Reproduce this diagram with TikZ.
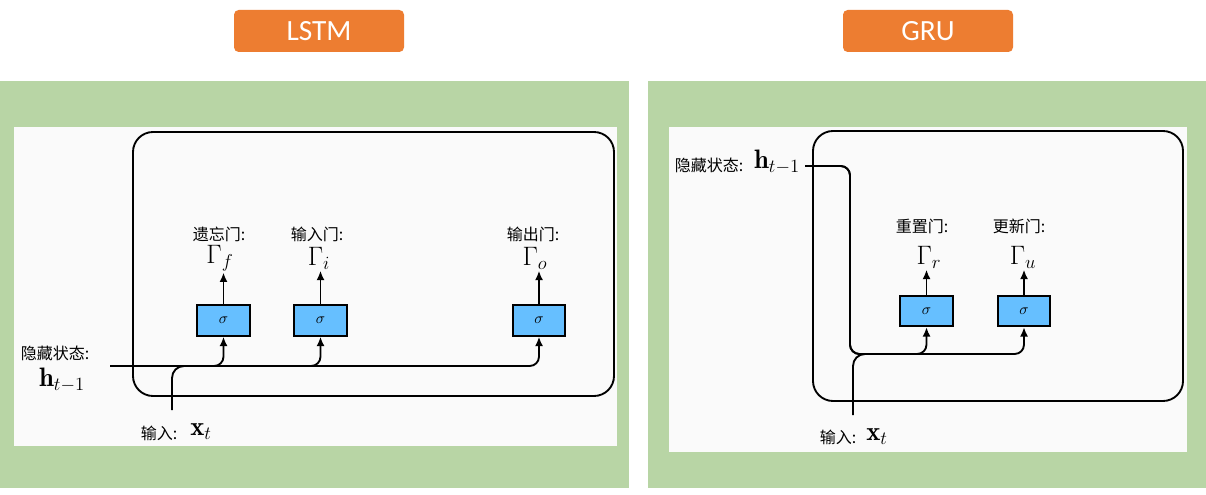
\RequirePackage{fix-cm}
\documentclass[tikz,border=0pt]{standalone}
\usepackage{fontspec}
\newfontfamily\cjk{Noto Sans CJK SC}
\newfontfamily\btnfont{Carlito}
\usetikzlibrary{arrows.meta}
\definecolor{panelgreen}{RGB}{184,213,165}
\definecolor{innerwhite}{RGB}{250,250,250}
\definecolor{gateblue}{RGB}{102,191,255}
\definecolor{orangec}{RGB}{237,125,49}
\tikzset{
  panel/.style={fill=panelgreen, draw=none},
  inner/.style={fill=innerwhite, draw=none},
  cell/.style={draw=black, line width=1.4pt, rounded corners=15pt},
  gatebox/.style={draw=black, fill=gateblue, line width=1.3pt, minimum width=39.5pt, minimum height=23pt, inner sep=0pt, font=\fontsize{11.5}{13}\selectfont},
  lbl/.style={font=\cjk\fontsize{12}{14}\selectfont, inner sep=1pt},
  mth/.style={font=\fontsize{20}{22}\selectfont, inner sep=1pt},
  conn/.style={line width=1.4pt, rounded corners=7pt},
  arr/.style={conn, -{Latex[length=7pt,width=6pt]}},
  titlebtn/.style={fill=orangec, rounded corners=3.5pt, text=white, font=\btnfont\fontsize{22}{24}\selectfont, minimum width=127.5pt, minimum height=31.5pt, inner sep=0pt}
}
\begin{document}
\begin{tikzpicture}[x=0.75pt,y=-0.75pt]
\useasboundingbox (0,0) rectangle (1206,495);
\fill[white] (0,0) rectangle (1206,495);
% titles
\node[titlebtn] (tL) at (319,31) {LSTM};
\node[titlebtn] (tG) at (928,31) {GRU};
% panels
\fill[panel] (0,81) rectangle (629,488);
\fill[panel] (648,81) rectangle (1206,488);
\fill[inner] (14,127) rectangle (617,446);
\fill[inner] (669,127) rectangle (1187,452);

% ---------- LSTM ----------
\draw[cell] (133,132) rectangle (614,396);
\node[gatebox] (gf) at (223.5,320.5) {$\sigma$};
\node[gatebox] (gi) at (320.5,320.5) {$\sigma$};
\node[gatebox] (go) at (539,320.5) {$\sigma$};
\node[mth] (Gf) at (220,258) {$\Gamma_f$};
\node[mth] (Gi) at (319,258) {$\Gamma_i$};
\node[mth] (Go) at (535,258) {$\Gamma_o$};
\node[lbl] (Lf) at (219,234) {遗忘门:};
\node[lbl] (Li) at (317,234) {输入门:};
\node[lbl] (Lo) at (533,234) {输出门:};
\draw[arr] (gf.north) -- (gf.north |- Gf.south);
\draw[arr] (gi.north) -- (gi.north |- Gi.south);
\draw[arr] (go.north) -- (go.north |- Go.south);
\coordinate (hL) at (110,366);
\coordinate (xL) at (172,410);
\coordinate (jL) at (200,366);
\draw[arr] (hL) -| (gf.south);
\draw[arr] (hL) -| (gi.south);
\draw[arr] (hL) -| (go.south);
\draw[conn, rounded corners=9pt] (xL) |- (jL);
\node[lbl] (hLl) at (55,353) {隐藏状态:};
\node[mth] (hLm) at (62,380) {$\mathbf{h}_{t-1}$};
\node[lbl] (xLl) at (159,433) {输入:};
\node[mth] (xLm) at (201,432) {$\mathbf{x}_t$};

% ---------- GRU ----------
\draw[cell] (813,131) rectangle (1183,401);
\node[gatebox] (gr) at (926.5,311) {$\sigma$};
\node[gatebox] (gu) at (1024,311) {$\sigma$};
\node[mth] (Gr) at (929,257) {$\Gamma_r$};
\node[mth] (Gu) at (1023,257) {$\Gamma_u$};
\node[lbl] (Lr) at (922,226) {重置门:};
\node[lbl] (Lu) at (1019,226) {更新门:};
\draw[arr] (gr.north) -- (gr.north |- Gr.south);
\draw[arr] (gu.north) -- (gu.north |- Gu.south);
\coordinate (hG) at (805,166);
\coordinate (dG) at (850,354);
\coordinate (xG) at (853,415);
\coordinate (jG) at (880,354);
\draw[arr] (hG) -| (dG) -| (gr.south);
\draw[arr] (hG) -| (dG) -| (gu.south);
\draw[conn, rounded corners=9pt] (xG) |- (jG);
\node[lbl] (hGl) at (709,165) {隐藏状态:};
\node[mth] (hGm) at (777,162) {$\mathbf{h}_{t-1}$};
\node[lbl] (xGl) at (838,437) {输入:};
\node[mth] (xGm) at (877,437) {$\mathbf{x}_t$};
\end{tikzpicture}
\end{document}
